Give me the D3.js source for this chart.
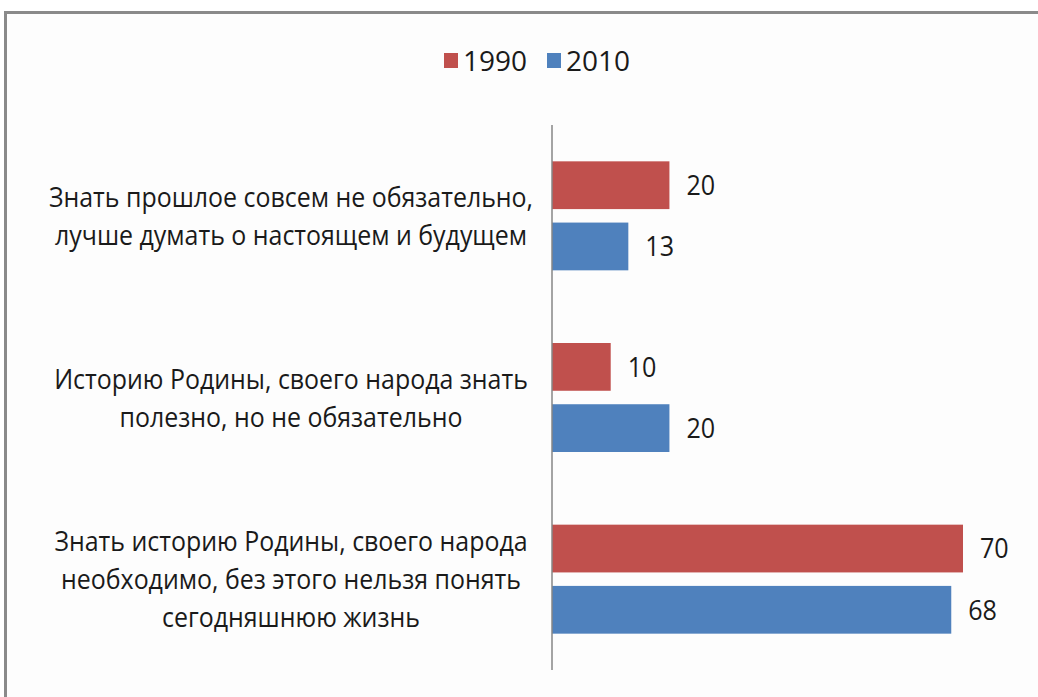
<!DOCTYPE html>
<html><head><meta charset="utf-8">
<script src="https://cdn.jsdelivr.net/npm/d3@7"></script>
<style>body{margin:0;background:#fff;}svg{display:block;}</style>
</head><body>
<script>
const categories = [
  ["Знать прошлое совсем не обязательно,", "лучше думать о настоящем и будущем"],
  ["Историю Родины, своего народа знать", "полезно, но не обязательно"],
  ["Знать историю Родины, своего народа", "необходимо, без этого нельзя понять", "сегодняшнюю жизнь"]
];
const seriesNames = ["1990", "2010"];
const values1990 = [20, 10, 70];
const values2010 = [13, 20, 68];
const colors = ["#C0504D", "#4F81BD"];

const W = 1038, H = 697;
const font = "'Open Sans', 'Noto Sans', sans-serif";
const svg = d3.select("body").append("svg").attr("width", W).attr("height", H);
svg.append("rect").attr("x", 0).attr("y", 0).attr("width", W).attr("height", H).attr("fill", "#fff");
svg.append("rect").attr("x", 5.5).attr("y", 12.5).attr("width", W + 10).attr("height", H + 10)
  .attr("fill", "#fdfdfd").attr("stroke", "#8a8a8a").attr("stroke-width", 3);

const x = d3.scaleLinear().domain([0, 70]).range([552, 963]);
const y = d3.scaleBand().domain(d3.range(categories.length)).range([125, 670]).paddingInner(0.4).paddingOuter(0.2);
const yi = d3.scaleBand().domain([0, 1]).range([0, y.bandwidth()]).paddingInner(0.22);

const data = categories.map((c, i) => ({i, vals: [values1990[i], values2010[i]]}));

const g = svg.selectAll("g.cat").data(data).enter().append("g").attr("class", "cat")
  .attr("transform", d => `translate(0,${y(d.i)})`);
g.selectAll("rect").data(d => d.vals.map((v, k) => ({v, k}))).enter().append("rect")
  .attr("x", x(0)).attr("y", d => yi(d.k)).attr("width", d => x(d.v) - x(0)).attr("height", yi.bandwidth())
  .attr("fill", d => colors[d.k]);
g.selectAll("text.val").data(d => d.vals.map((v, k) => ({v, k}))).enter().append("text")
  .attr("class", "val").attr("x", d => x(d.v) + 17).attr("y", d => yi(d.k) + yi.bandwidth() / 2)
  .attr("dy", "0.36em").attr("font-family", font).attr("font-size", 27).attr("fill", "#1a1a1a")
  .attr("transform", d => `translate(${x(d.v) + 17},0) scale(0.93,1) translate(${-(x(d.v) + 17)},0)`)
  .text(d => d.v);

// category labels
const lineH = 38;
const lab = svg.append("g").attr("transform", "translate(291,0) scale(0.89,1)");
lab.selectAll("text.cat").data(data).enter().append("text").attr("class", "cat")
  .attr("x", 0).attr("text-anchor", "middle").attr("font-family", font).attr("font-size", 28).attr("fill", "#1a1a1a")
  .each(function(d) {
    const lines = categories[d.i];
    const cy = y(d.i) + y.bandwidth() / 2 - (lines.length - 1) * lineH / 2;
    d3.select(this).selectAll("tspan").data(lines).enter().append("tspan")
      .attr("x", 0).attr("y", (l, j) => cy + j * lineH).attr("dy", "0.36em").text(l => l);
  });

// axis line
svg.append("line").attr("x1", x(0)).attr("x2", x(0)).attr("y1", 125).attr("y2", 670)
  .attr("stroke", "#868686").attr("stroke-width", 1.5);

// legend
const leg = svg.append("g").attr("transform", "translate(444,53)");
const li = leg.selectAll("g").data(seriesNames).enter().append("g")
  .attr("transform", (d, k) => `translate(${k * 103},0)`);
li.append("rect").attr("width", 14).attr("height", 15).attr("fill", (d, k) => colors[k]);
li.append("text").attr("x", 19).attr("y", 8).attr("dy", "0.36em").attr("font-family", font)
  .attr("font-size", 28).attr("fill", "#1a1a1a").text(d => d);
</script>
</body></html>
